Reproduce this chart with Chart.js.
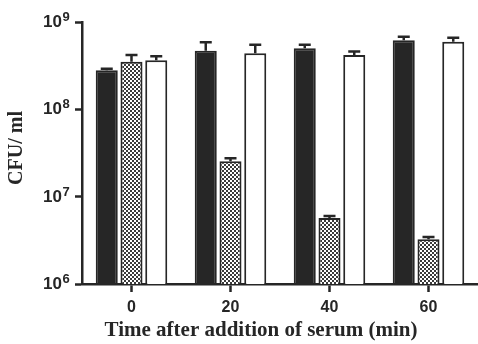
<!DOCTYPE html>
<html>
<head>
<meta charset="utf-8">
<script src="https://cdn.jsdelivr.net/npm/chart.js@4/dist/chart.umd.min.js"></script>
<style>
  html, body { margin: 0; padding: 0; background: #fff; }
  #wrap { width: 478px; height: 344px; }
</style>
</head>
<body>
<div id="wrap"><canvas id="c" width="478" height="344"></canvas></div>
<script>
const TIMES = ['0', '20', '40', '60'];
const Y_TICKS = [1e6, 1e7, 1e8, 1e9];
const Y_EXP = ['6', '7', '8', '9'];

const SOLID = [2.8e8, 4.7e8, 5.0e8, 6.2e8];
const SOLID_ERR = [0.12e8, 1.15e8, 0.5e8, 0.6e8];
const CHECK = [3.5e8, 2.55e7, 5.7e6, 3.25e6];
const CHECK_ERR = [0.7e8, 0.2e7, 0.3e6, 0.2e6];
const OPEN = [3.65e8, 4.4e8, 4.2e8, 5.95e8];
const OPEN_ERR = [0.4e8, 1.1e8, 0.4e8, 0.65e8];

const X_TITLE = 'Time after addition of serum (min)';
const Y_TITLE = 'CFU/ ml';
const INK = '#262626';
const SERIF = "'Liberation Serif', 'Times New Roman', serif";
const SANS = "'Liberation Sans', Arial, sans-serif";

function checker() {
    const p = document.createElement('canvas');
    p.width = 4; p.height = 4;
    const g = p.getContext('2d');
    g.fillStyle = '#ffffff';
    g.fillRect(0, 0, 4, 4);
    g.fillStyle = '#3a3a3a';
    g.fillRect(0, 0, 2, 2);
    g.fillRect(2, 2, 2, 2);
    return g.createPattern(p, 'repeat');
}

const errorBars = {
    id: 'errorBars',
    afterDatasetsDraw(chart) {
        const { ctx } = chart;
        const y = chart.scales.y;
        ctx.save();
        ctx.strokeStyle = INK;
        ctx.lineWidth = 2.5;
        chart.data.datasets.forEach((ds, i) => {
            const meta = chart.getDatasetMeta(i);
            meta.data.forEach((bar, j) => {
                const top = y.getPixelForValue(ds.data[j] + ds.err[j]);
                ctx.beginPath();
                ctx.moveTo(bar.x, bar.y);
                ctx.lineTo(bar.x, top);
                ctx.moveTo(bar.x - 6, top);
                ctx.lineTo(bar.x + 6, top);
                ctx.stroke();
            });
        });
        ctx.restore();
    }
};

// powers of ten with real superscripts, plus both axis titles
const labels = {
    id: 'labels',
    afterDraw(chart) {
        const { ctx } = chart;
        const y = chart.scales.y;
        ctx.save();
        ctx.fillStyle = INK;
        ctx.textBaseline = 'alphabetic';
        Y_TICKS.forEach((v, i) => {
            const py = y.getPixelForValue(v);
            ctx.font = 'bold 17px ' + SANS;
            ctx.textAlign = 'right';
            ctx.fillText('10', 62, py + 5);
            ctx.font = 'bold 13px ' + SANS;
            ctx.textAlign = 'left';
            ctx.fillText(Y_EXP[i], 62.5, py - 1);
        });
        ctx.font = 'bold 21px ' + SERIF;
        ctx.textAlign = 'center';
        ctx.textBaseline = 'middle';
        ctx.fillText(X_TITLE, 261, 331);
        ctx.font = 'bold 20px ' + SERIF;
        ctx.translate(17, 148);
        ctx.rotate(-Math.PI / 2);
        ctx.fillText(Y_TITLE, 0, 0);
        ctx.restore();
    }
};

new Chart(document.getElementById('c'), {
    type: 'bar',
    data: {
        labels: TIMES,
        datasets: [
            { data: SOLID, err: SOLID_ERR, backgroundColor: INK, borderColor: INK, borderWidth: 2 },
            { data: CHECK, err: CHECK_ERR, backgroundColor: checker(), borderColor: INK, borderWidth: 2 },
            { data: OPEN, err: OPEN_ERR, backgroundColor: '#ffffff', borderColor: INK, borderWidth: 2 }
        ]
    },
    options: {
        responsive: false,
        animation: false,
        layout: { padding: { top: 22, right: 0, left: 0, bottom: 0 } },
        categoryPercentage: 0.75,
        barPercentage: 0.89,
        plugins: { legend: { display: false }, tooltip: { enabled: false } },
        scales: {
            x: {
                afterFit: s => { s.height = 60; },
                grid: { offset: false, drawOnChartArea: false, drawTicks: true, tickLength: 8, tickColor: INK, tickWidth: 2.5 },
                border: { display: true, color: INK, width: 2.5 },
                ticks: { color: INK, padding: 6, font: { family: SANS, size: 16, weight: 'bold' } }
            },
            y: {
                type: 'logarithmic',
                min: 1e6,
                max: 1e9,
                afterFit: s => { s.width = 82; },
                afterBuildTicks: s => { s.ticks = Y_TICKS.map(v => ({ value: v, major: true })); },
                grid: { drawOnChartArea: false, drawTicks: true, tickLength: 7, tickColor: INK, tickWidth: 2.5 },
                border: { display: true, color: INK, width: 2.5 },
                ticks: { display: false }
            }
        }
    },
    plugins: [errorBars, labels]
});
</script>
</body>
</html>
